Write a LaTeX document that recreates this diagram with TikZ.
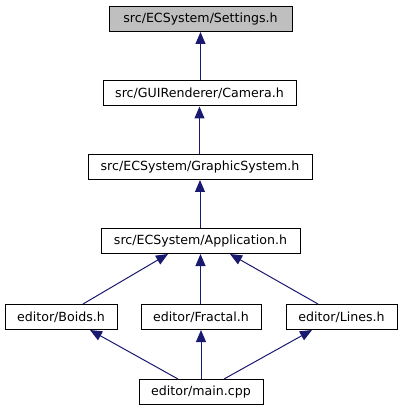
\documentclass[tikz,border=0pt]{standalone}
\usepackage{fontspec}
\setmainfont{DejaVu Sans}
\usetikzlibrary{arrows.meta,calc}
\definecolor{edgeblue}{HTML}{191970}
\definecolor{rootgray}{HTML}{BFBFBF}
\tikzset{
  filebox/.style={draw=black, line width=1pt, fill=white, minimum height=25pt, inner sep=0pt, font=\fontsize{12.6}{15}\selectfont},
  dep/.style={draw=edgeblue, line width=1pt, -{Triangle[length=12pt,width=10pt]}}
}
\begin{document}
\begin{tikzpicture}[x=1pt,y=-1pt]
\useasboundingbox (0,0) rectangle (402,411);
\node[filebox, fill=rootgray, minimum width=183pt] (settings) at (200.5,19) {src/ECSystem/Settings.h};
\node[filebox, minimum width=193pt] (camera) at (199.5,93.5) {src/GUIRenderer/Camera.h};
\node[filebox, minimum width=224pt] (graphic) at (200,167) {src/ECSystem/GraphicSystem.h};
\node[filebox, minimum width=199pt] (app) at (200.5,241) {src/ECSystem/Application.h};
\node[filebox, minimum width=112pt] (boids) at (61,317) {editor/Boids.h};
\node[filebox, minimum width=120pt] (fractal) at (201,317) {editor/Fractal.h};
\node[filebox, minimum width=111pt] (lines) at (341.5,317) {editor/Lines.h};
\node[filebox, minimum width=124pt] (main) at (201,392) {editor/main.cpp};

\draw[dep] (camera.north -| settings.south) -- (settings.south);
\draw[dep] (graphic.north -| camera.south) -- (camera.south);
\draw[dep] (app.north -| graphic.south) -- (graphic.south);
\draw[dep] ($(boids.north)+(22,0)$) -- ($(app.south)+(-32.5,0)$);
\draw[dep] (fractal.north -| app.south) -- (app.south);
\draw[dep] ($(lines.north)+(-23.5,0)$) -- ($(app.south)+(29.5,0)$);
\draw[dep] ($(main.north)+(-23,0)$) -- ($(boids.south)+(29,0)$);
\draw[dep] (main.north -| fractal.south) -- (fractal.south);
\draw[dep] ($(main.north)+(23,0)$) -- ($(lines.south)+(-29.5,0)$);
\end{tikzpicture}
\end{document}
